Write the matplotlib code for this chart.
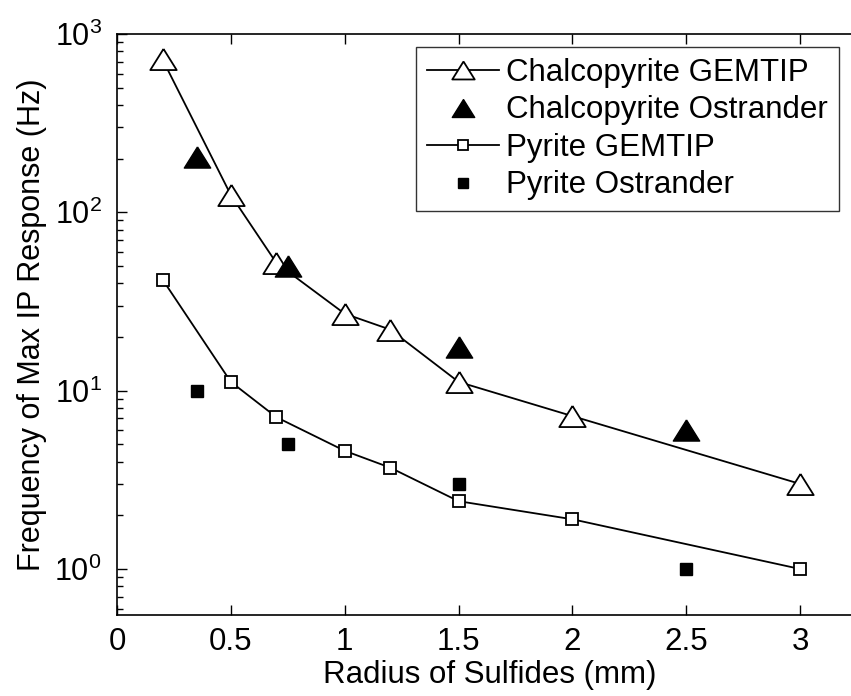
import numpy as np
import matplotlib.pyplot as plt
from matplotlib.ticker import LogLocator, NullFormatter, FixedLocator

plt.rcParams['font.family'] = ['Liberation Sans', 'DejaVu Sans']
plt.rcParams['mathtext.fontset'] = 'custom'
plt.rcParams['mathtext.rm'] = 'Liberation Sans'

# Radius of sulfides (mm) and peak IP response frequency (Hz)
radius_gemtip = [0.2, 0.5, 0.7, 1.0, 1.2, 1.5, 2.0, 3.0]
chalco_gemtip = [720, 125, 52, 27, 22, 11.2, 7.2, 3.0]
pyrite_gemtip = [42, 11.2, 7.1, 4.6, 3.7, 2.4, 1.9, 1.0]

radius_ostrander = [0.35, 0.75, 1.5, 2.5]
chalco_ostrander = [205, 50, 17.5, 6.0]
pyrite_ostrander = [10, 5.0, 3.0, 1.0]

# slightly flattened triangle, wider than tall
tri = [(0, 0.8), (-1, -0.8), (1, -0.8), (0, 0.8)]

fig = plt.figure(figsize=(8.51, 6.96), dpi=100)
# axes run off the right edge of the figure
ax = fig.add_axes([117 / 851, 81 / 696, 746 / 851, 581 / 696])

ax.plot(radius_gemtip, chalco_gemtip, color='black', lw=1.3, marker=tri,
        ms=19, mfc='white', mec='black', mew=1.3, label='Chalcopyrite GEMTIP')
ax.plot(radius_ostrander, chalco_ostrander, ls='none', marker=tri,
        ms=19, mfc='black', mec='black', label='Chalcopyrite Ostrander')
ax.plot(radius_gemtip, pyrite_gemtip, color='black', lw=1.3, marker='s',
        ms=8.5, mfc='white', mec='black', mew=1.3, label='Pyrite GEMTIP')
ax.plot(radius_ostrander, pyrite_ostrander, ls='none', marker='s',
        ms=8.5, mfc='black', mec='black', label='Pyrite Ostrander')

ax.set_yscale('log')
ax.set_xlim(0, 746 / 227.7)
ax.set_ylim(0.552, 1000)
ax.xaxis.set_major_locator(FixedLocator([0, 0.5, 1, 1.5, 2, 2.5, 3]))
ax.set_xticklabels(['0', '0.5', '1', '1.5', '2', '2.5', '3'])
ax.yaxis.set_major_locator(LogLocator(base=10, numticks=10))
ax.yaxis.set_minor_locator(LogLocator(base=10, subs=np.arange(2, 10), numticks=20))
ax.yaxis.set_minor_formatter(NullFormatter())

ax.spines['right'].set_visible(False)
ax.tick_params(axis='both', which='major', direction='in', length=7, width=1,
               labelsize=22.5, top=True)
ax.tick_params(axis='x', which='major', pad=9)
ax.tick_params(axis='y', which='major', pad=11, labelsize=22)
ax.tick_params(axis='y', which='minor', direction='in', length=4, width=1)
for s in ax.spines.values():
    s.set_linewidth(1.2)

ax.set_xlabel('Radius of Sulfides (mm)', fontsize=22.5, labelpad=2)
ax.set_ylabel('Frequency of Max IP Response (Hz)', fontsize=22, labelpad=5)

leg = ax.legend(loc='upper right', bbox_to_anchor=(839 / 851, 1 - 47 / 696),
                bbox_transform=fig.transFigure, fontsize=22.5, frameon=True,
                fancybox=False, edgecolor='black', handlelength=2.3,
                handletextpad=0.25, borderpad=0.35, labelspacing=0.24,
                borderaxespad=0, markerscale=0.85)
leg.get_frame().set_linewidth(1.0)

fig.savefig('out.png', dpi=100)
